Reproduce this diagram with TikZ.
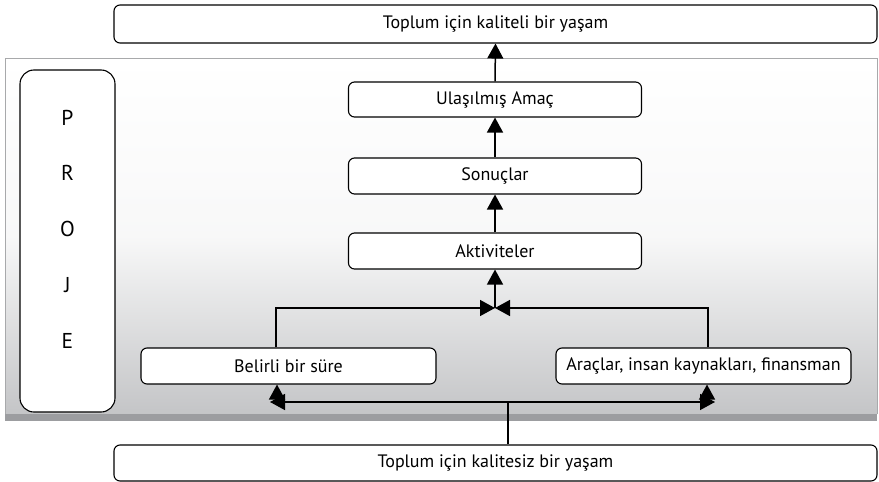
\documentclass[tikz,border=0pt]{standalone}
\usepackage{fontspec}
\setmainfont{PT Sans}
\usetikzlibrary{arrows.meta,calc}
\definecolor{panelbot}{HTML}{C4C5C7}
\definecolor{panelshadow}{HTML}{9C9DA0}
\definecolor{panelline}{HTML}{A8A9AB}
\tikzset{
  box/.style={draw=black, line width=1.1pt, fill=white, rounded corners=6pt, inner sep=0pt,
     font=\fontsize{18}{21}\selectfont},
  conn/.style={draw=black, line width=1.5pt},
  arr/.style={conn, -{Triangle[width=16pt,length=15pt]}},
}
\begin{document}
\begin{tikzpicture}[x=1pt,y=-1pt]
\useasboundingbox (0,0) rectangle (879,482);
% panel
\shade[top color=white, bottom color=panelbot, middle color=white!88!panelbot] (5,58) rectangle (877,414);
\fill[panelshadow] (5,414) rectangle (877,421);
\draw[panelline, line width=1pt] (5,414) -- (5,58) -- (877,58) -- (877,414);
% nodes
\node[box, minimum width=763pt, minimum height=38pt] (top) at (495.5,24) {Toplum için kaliteli bir yaşam};
\node[box, minimum width=293pt, minimum height=35pt] (amac) at (495,99.5) {Ulaşılmış Amaç};
\node[box, minimum width=293pt, minimum height=36pt] (sonuc) at (495,176) {Sonuçlar};
\node[box, minimum width=293pt, minimum height=36pt] (aktiv) at (495,251) {Aktiviteler};
\node[box, minimum width=295pt, minimum height=36pt] (belirli) at (288.5,366) {Belirli bir süre};
\node[box, minimum width=295pt, minimum height=36pt] (arac) at (703.5,366) {Araçlar, insan kaynakları, finansman};
\node[box, minimum width=763pt, minimum height=36pt] (bottom) at (495.5,463) {Toplum için kalitesiz bir yaşam};
\node[box, rounded corners=14pt, minimum width=95pt, minimum height=342pt] (proje) at (67.5,241) {};
\node[font=\fontsize{21.5}{55.75}\selectfont, align=center, inner sep=0pt] (projetext) at (67.5,229) {P\\R\\O\\J\\E};
% coordinates
\coordinate (J) at (495,308);
\coordinate (K) at (508,402);
\coordinate (Lh) at (270,402);
\coordinate (Lv) at (277,402);
\coordinate (Rh) at (715,402);
\coordinate (Rv) at (707,402);
\coordinate (Lt) at (276,308);
\coordinate (Rt) at (708,308);
% connectors
\draw[arr] (amac.north) -- (top.south);
\draw[arr] (sonuc.north) -- (amac.south);
\draw[arr] (aktiv.north) -- (sonuc.south);
\draw[arr] (J) -- (aktiv.south);
\draw[arr] (belirli.north -| Lt) -- (Lt) -- (J);
\draw[arr] (arac.north -| Rt) -- (Rt) -- (J);
\draw[conn] (bottom.north -| K) -- (K);
\draw[arr] (K) -- (Lh);
\draw[arr] (K) -- (Rh);
\draw[arr] (Lv) -- (Lv |- belirli.south);
\draw[arr] (Rv) -- (Rv |- arac.south);
\end{tikzpicture}
\end{document}
